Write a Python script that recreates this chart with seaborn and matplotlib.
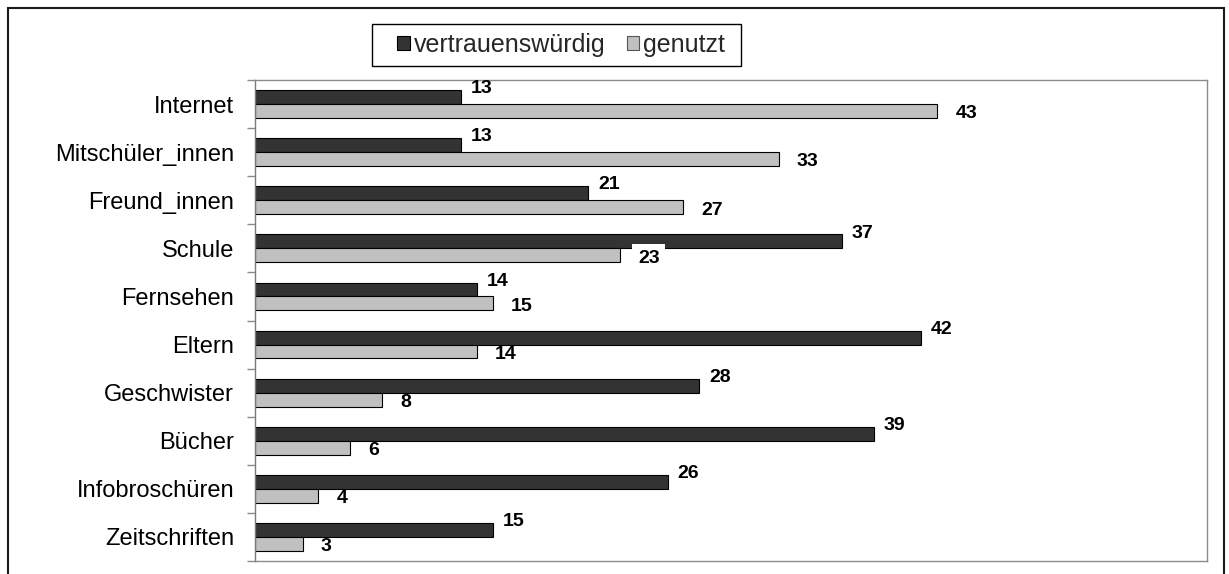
import matplotlib
matplotlib.use("Agg")
import matplotlib.pyplot as plt
from matplotlib.patches import Rectangle
from matplotlib.ticker import FixedLocator
import seaborn as sns
import pandas as pd
import numpy as np

categories = ["Internet", "Mitschüler_innen", "Freund_innen", "Schule", "Fernsehen",
              "Eltern", "Geschwister", "Bücher", "Infobroschüren", "Zeitschriften"]
vertrauenswuerdig = [13, 13, 21, 37, 14, 42, 28, 39, 26, 15]
genutzt = [43, 33, 27, 23, 15, 14, 8, 6, 4, 3]
series_names = ["vertrauenswürdig", "genutzt"]
series_colors = ["#333333", "#C0C0C0"]
# labels that carry an opaque white background
boxed_labels = {"Schule"}

df = pd.DataFrame({
    "Quelle": categories * 2,
    "Wert": vertrauenswuerdig + genutzt,
    "Reihe": [series_names[0]] * len(categories) + [series_names[1]] * len(categories),
})

sns.set_theme(style="white")
plt.rcParams["font.family"] = ["Liberation Sans", "DejaVu Sans"]

W, H = 1229, 574
fig = plt.figure(figsize=(W / 100, H / 100), dpi=100)
ax = fig.add_axes([255 / W, 1 - 561 / H, (1207 - 255) / W, (561 - 80) / H])

sns.barplot(data=df, y="Quelle", x="Wert", hue="Reihe", order=categories,
            hue_order=series_names, palette=series_colors, orient="h",
            width=0.58, gap=0, edgecolor="black", linewidth=0.8,
            saturation=1, legend=False, ax=ax)

ax.set_xlim(0, 60)
ax.set_ylim(len(categories) - 0.5, -0.5)
ax.set_xlabel("")
ax.set_ylabel("")
ax.set_xticks([])

# category labels at the centres, tick marks on the boundaries
ax.tick_params(axis="y", which="major", length=0, pad=15, labelsize=17, labelcolor="black")
ax.yaxis.set_minor_locator(FixedLocator(np.arange(-0.5, len(categories), 1.0)))
ax.tick_params(axis="y", which="minor", length=6, width=1, color="#8c8c8c", left=True)

for side in ["top", "right", "bottom"]:
    ax.spines[side].set_color("#8c8c8c")
    ax.spines[side].set_linewidth(1)
ax.spines["left"].set_color("#7a7a7a")
ax.spines["left"].set_linewidth(1)

# value labels
dark_bars, light_bars = ax.containers[0], ax.containers[1]
for cat, bar in zip(categories, light_bars):
    w = bar.get_width()
    yc = bar.get_y() + bar.get_height() / 2
    box = dict(facecolor="white", edgecolor="none", pad=4) if cat in boxed_labels else None
    ax.annotate(f"{w:.0f}", xy=(w, yc), xytext=(13, -2), textcoords="offset points",
                ha="left", va="center", fontsize=14, fontweight="bold", color="black",
                bbox=box, zorder=5)
for bar in dark_bars:
    w = bar.get_width()
    yc = bar.get_y() + bar.get_height() / 2
    ax.annotate(f"{w:.0f}", xy=(w, yc), xytext=(7, 6), textcoords="offset points",
                ha="left", va="center", fontsize=14, fontweight="bold", color="black",
                zorder=6)

# legend entries, with a separate frame box around them
handles = [Rectangle((0, 0), 1, 1, facecolor=series_colors[0], edgecolor="black", linewidth=0.8),
           Rectangle((0, 0), 1, 1, facecolor=series_colors[1], edgecolor="#555555", linewidth=0.8)]
fig.legend(handles, series_names, loc="center", bbox_to_anchor=(561 / W, 1 - 45 / H),
           ncol=2, frameon=False, fontsize=18, handlelength=0.5,
           handleheight=0.5, handletextpad=0.15, columnspacing=0.85,
           borderpad=0, borderaxespad=0)
fig.patches.append(Rectangle((372 / W, 1 - 66 / H), (741 - 372) / W, (66 - 24) / H,
                             transform=fig.transFigure, fill=False,
                             edgecolor="black", linewidth=1))

# outer chart frame
fig.patches.append(Rectangle((8 / W, -0.05), (1224 - 8) / W, 1.05 - 8 / H,
                             transform=fig.transFigure, fill=False,
                             edgecolor="#1a1a1a", linewidth=1.5))

fig.savefig("out.png", dpi=100, facecolor="white")
